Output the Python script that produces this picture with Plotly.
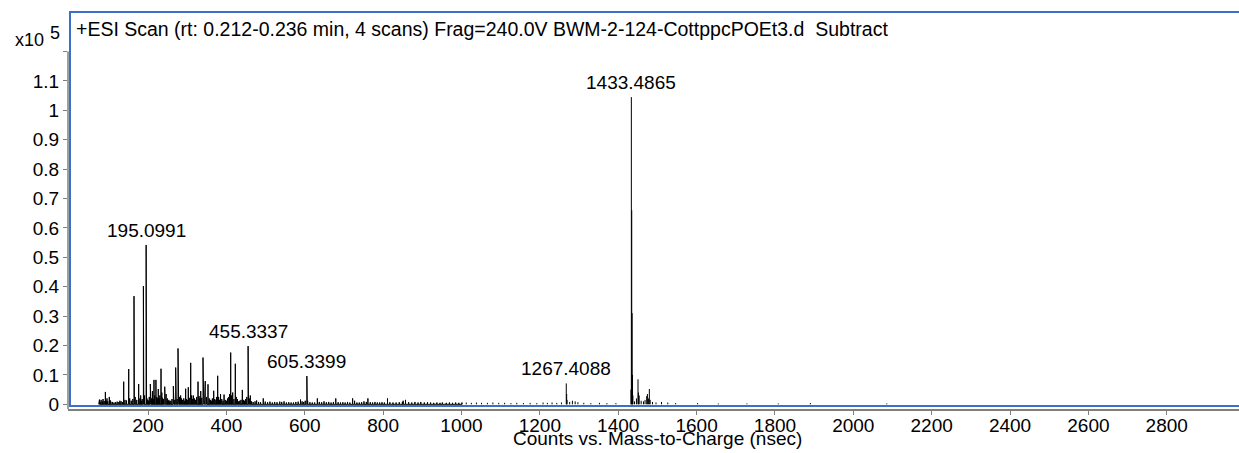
import plotly.graph_objects as go

# Centroided peaks, m/z and abundance (x10^5 counts)
low_mz = [
    74.1, 76.0, 78.0, 80.1, 83.1, 85.1, 88.0, 91.1, 93.1, 95.1, 97.1, 101.1, 103.1, 105.1,
    109.1, 113.1, 117.1, 121.1, 125.1, 128.1, 131.1, 135.1, 137.8, 141.1, 145.1, 150.6,
    153.1, 157.1, 161.1, 164.1, 165.1, 167.1, 171.1, 176.0, 179.1, 181.1, 183.1, 185.1,
    188.1, 189.1, 191.1, 195.0991, 196.1, 197.1, 199.1, 201.1, 203.1, 205.8, 207.1, 209.1,
    211.1, 213.1, 215.1, 217.1, 220.1, 222.1, 224.1, 226.1, 228.1, 230.1, 233.1, 235.1,
    237.1, 239.1, 242.5, 244.1, 246.1, 249.1, 251.1, 253.1, 255.1, 258.1, 261.1, 264.5,
    266.1, 268.1, 270.5, 272.1, 274.1, 276.4, 278.1, 280.1, 283.1, 285.1, 288.1, 291.1,
    293.1, 296.0, 298.1, 300.1, 302.7, 305.1, 308.8, 311.1, 313.1, 315.5, 318.1, 321.1,
    324.1, 327.5, 330.1, 332.1, 334.4, 337.1, 340.2, 342.1, 344.1, 346.0, 349.1, 350.5,
    353.0, 356.1, 359.1, 362.1, 364.1, 367.5, 370.1, 373.1, 375.1, 377.7, 380.1, 382.1,
    385.0, 388.1, 391.1, 394.0, 397.1, 400.1, 403.1, 406.1, 408.1, 410.9, 413.1, 416.0,
    419.1, 422.7, 425.1, 428.1, 431.1, 434.1, 437.1, 440.6, 443.1, 446.1, 449.1, 452.1,
    455.3337, 456.3, 458.1, 461.0, 464.1, 468.1, 473.1, 477.1, 482.1, 487.1, 494.0, 499.1,
    505.1, 511.1, 517.1, 523.1, 529.1, 536.1, 541.1, 547.1, 553.1, 559.1, 565.1, 571.1,
    577.1, 583.1, 589.1, 593.1, 597.1, 601.1, 605.3399, 606.3, 607.3, 613.1, 619.1, 625.1,
    632.1, 637.1, 643.1, 649.1, 655.1, 661.1, 667.1, 673.1, 679.1, 685.1, 691.1, 697.1,
    703.1, 709.1, 715.1, 722.1, 727.1, 733.1, 739.1, 745.1, 751.1, 757.1, 761.1, 767.1,
    773.1, 779.1, 785.1, 791.1, 797.1, 803.1, 811.1, 817.1, 825.1, 833.1, 841.1, 849.1,
    851.1, 857.1, 865.1, 873.1, 881.1, 889.1, 896.1, 905.1, 913.1, 921.1, 929.1, 937.1,
    945.1, 951.1, 961.1, 969.1, 977.1, 985.1, 993.1, 1001.1,
]
low_abund = [
    0.012, 0.016, 0.008, 0.015, 0.010, 0.018, 0.011, 0.042, 0.012, 0.020, 0.010, 0.025, 0.014, 0.009,
    0.008, 0.006, 0.007, 0.009, 0.007, 0.012, 0.010, 0.008, 0.077, 0.015, 0.013, 0.120,
    0.020, 0.012, 0.018, 0.368, 0.072, 0.025, 0.015, 0.069, 0.020, 0.030, 0.012, 0.018,
    0.402, 0.045, 0.030, 0.542, 0.048, 0.020, 0.015, 0.012, 0.025, 0.069, 0.030, 0.020,
    0.045, 0.018, 0.083, 0.030, 0.083, 0.025, 0.020, 0.052, 0.020, 0.030, 0.121, 0.040,
    0.022, 0.018, 0.060, 0.025, 0.035, 0.020, 0.012, 0.015, 0.010, 0.012, 0.018, 0.062,
    0.020, 0.015, 0.125, 0.030, 0.018, 0.190, 0.030, 0.025, 0.030, 0.020, 0.015, 0.020,
    0.012, 0.053, 0.018, 0.015, 0.058, 0.022, 0.141, 0.030, 0.018, 0.030, 0.020, 0.015,
    0.025, 0.077, 0.028, 0.020, 0.045, 0.022, 0.159, 0.035, 0.020, 0.079, 0.025, 0.015,
    0.068, 0.020, 0.015, 0.012, 0.020, 0.046, 0.018, 0.015, 0.025, 0.097, 0.025, 0.015,
    0.035, 0.018, 0.012, 0.033, 0.015, 0.012, 0.020, 0.025, 0.035, 0.176, 0.030, 0.040,
    0.018, 0.138, 0.025, 0.018, 0.010, 0.012, 0.015, 0.049, 0.015, 0.012, 0.018, 0.025,
    0.198, 0.045, 0.020, 0.030, 0.010, 0.008, 0.010, 0.013, 0.008, 0.007, 0.020, 0.009,
    0.007, 0.009, 0.006, 0.008, 0.007, 0.009, 0.008, 0.010, 0.006, 0.007, 0.006, 0.006,
    0.008, 0.009, 0.016, 0.010, 0.008, 0.012, 0.096, 0.032, 0.012, 0.007, 0.006, 0.006,
    0.020, 0.008, 0.007, 0.010, 0.007, 0.008, 0.006, 0.008, 0.020, 0.007, 0.006, 0.007,
    0.006, 0.008, 0.006, 0.020, 0.012, 0.006, 0.006, 0.007, 0.010, 0.008, 0.020, 0.007,
    0.006, 0.008, 0.006, 0.006, 0.007, 0.006, 0.020, 0.007, 0.006, 0.006, 0.007, 0.008,
    0.012, 0.015, 0.007, 0.006, 0.008, 0.006, 0.008, 0.006, 0.007, 0.006, 0.005, 0.006,
    0.005, 0.006, 0.005, 0.006, 0.005, 0.006, 0.005, 0.006,
]

high_mz = [
    1012.1, 1025.1, 1038.1, 1051.1, 1066.1, 1080.1, 1095.1, 1110.1, 1126.1, 1141.1,
    1158.1, 1175.1, 1192.1, 1208.1, 1219.1, 1231.1, 1243.1, 1255.1, 1267.4088, 1268.4,
    1269.4, 1276.1, 1283.1, 1290.1, 1297.1, 1312.1, 1330.1, 1352.1, 1371.1, 1394.1,
    1432.5, 1433.4865, 1434.49, 1435.49, 1436.49, 1437.5, 1441.5, 1446.5, 1450.5, 1451.5,
    1453.5, 1458.5, 1464.5, 1468.5, 1472.7, 1474.5, 1477.5, 1479.4, 1481.5, 1487.5,
    1496.5, 1510.5, 1526.5, 1546.5, 1602.5, 1655.5, 1728.5, 1808.5, 1890.5, 2085.5,
]
high_abund = [
    0.006, 0.005, 0.006, 0.005, 0.005, 0.006, 0.005, 0.005, 0.004, 0.005,
    0.004, 0.005, 0.004, 0.006, 0.005, 0.006, 0.005, 0.006, 0.071, 0.035,
    0.015, 0.008, 0.012, 0.010, 0.007, 0.005, 0.004, 0.005, 0.004, 0.004,
    0.050, 1.045, 0.660, 0.310, 0.100, 0.030, 0.010, 0.020, 0.085, 0.040,
    0.030, 0.012, 0.010, 0.015, 0.028, 0.035, 0.020, 0.052, 0.015, 0.008,
    0.006, 0.008, 0.006, 0.004, 0.004, 0.003, 0.003, 0.003, 0.004, 0.003,
]

labelled_mz = [195.0991, 455.3337, 605.3399, 1267.4088, 1433.4865]
labelled_abund = [0.542, 0.198, 0.096, 0.071, 1.045]

x_ticks = [200, 400, 600, 800, 1000, 1200, 1400, 1600, 1800, 2000, 2200, 2400, 2600, 2800]
y_ticks = [0, 0.1, 0.2, 0.3, 0.4, 0.5, 0.6, 0.7, 0.8, 0.9, 1, 1.1, 1.2]
y_tick_text = ["0", "0.1", "0.2", "0.3", "0.4", "0.5", "0.6", "0.7", "0.8", "0.9", "1", "1.1", ""]

scan_title = ("+ESI Scan (rt: 0.212-0.236 min, 4 scans) Frag=240.0V "
              "BWM-2-124-CottppcPOEt3.d\u00a0\u00a0Subtract")
x_title = "Counts vs. Mass-to-Charge (nsec)"

FONT = "Liberation Sans, Arial, Helvetica, sans-serif"
BLUE = "#3b6fcb"
GREY = "#7f7f7f"


def stick_path(mz, abund, joined):
    xs, ys = [], []
    for m, a in zip(mz, abund):
        xs += [m, m, m if joined else None]
        ys += [0, a, 0 if joined else None]
    return xs, ys


fig = go.Figure()
lx, ly = stick_path(low_mz, low_abund, True)
hx, hy = stick_path(high_mz, high_abund, False)
for xs, ys in ((lx, ly), (hx, hy)):
    fig.add_trace(go.Scatter(x=xs, y=ys, mode="lines",
                             line=dict(color="black", width=1),
                             hoverinfo="skip", showlegend=False))

for m, a in zip(labelled_mz, labelled_abund):
    fig.add_annotation(x=m, y=a, text=f"{m:.4f}", showarrow=False,
                       xanchor="center", yanchor="bottom", yshift=2,
                       font=dict(family=FONT, size=19, color="black"))

# Scan description, y multiplier and x axis caption
fig.add_annotation(xref="paper", yref="paper", x=0.0055, y=0.958, text=scan_title,
                   showarrow=False, xanchor="left", yanchor="middle",
                   font=dict(family=FONT, size=19.5, color="black"))
fig.add_annotation(xref="paper", yref="paper", x=-0.047, y=0.929, text="x10",
                   showarrow=False, xanchor="left", yanchor="middle",
                   font=dict(family=FONT, size=18, color="black"))
fig.add_annotation(xref="paper", yref="paper", x=-0.0175, y=0.947, text="5",
                   showarrow=False, xanchor="left", yanchor="middle",
                   font=dict(family=FONT, size=18, color="black"))
fig.add_annotation(xref="paper", yref="paper", x=0.503, y=-0.074, text=x_title,
                   showarrow=False, xanchor="center", yanchor="middle",
                   font=dict(family=FONT, size=19, color="black"))

# Panel frame and y axis line
fig.add_shape(type="rect", xref="paper", yref="paper", x0=0.0017, x1=1.02,
              y0=0.0076, y1=1.0, line=dict(color=BLUE, width=2), layer="above")
fig.add_shape(type="line", xref="paper", yref="y", x0=0, x1=0, y0=-0.016, y1=1.2,
              line=dict(color=GREY, width=1.5), layer="above")

fig.update_layout(
    width=1239, height=453,
    margin=dict(l=68, r=0, t=12, b=44),
    paper_bgcolor="white", plot_bgcolor="white",
    font=dict(family=FONT, size=19, color="black"),
    xaxis=dict(range=[-4.34, 2984.4], tickvals=x_ticks, ticks="outside", ticklen=4,
               tickcolor=GREY, showline=True, linecolor=GREY, linewidth=1.5,
               showgrid=False, zeroline=False, automargin=False,
               ticklabelstandoff=-6, tickfont=dict(family=FONT, size=19)),
    yaxis=dict(range=[-0.016, 1.3344], tickvals=y_ticks, ticktext=y_tick_text,
               ticks="outside", ticklen=4, tickcolor=GREY, showline=False,
               showgrid=False, zeroline=False, automargin=False,
               tickfont=dict(family=FONT, size=19)),
)

fig.write_html("out.html")
